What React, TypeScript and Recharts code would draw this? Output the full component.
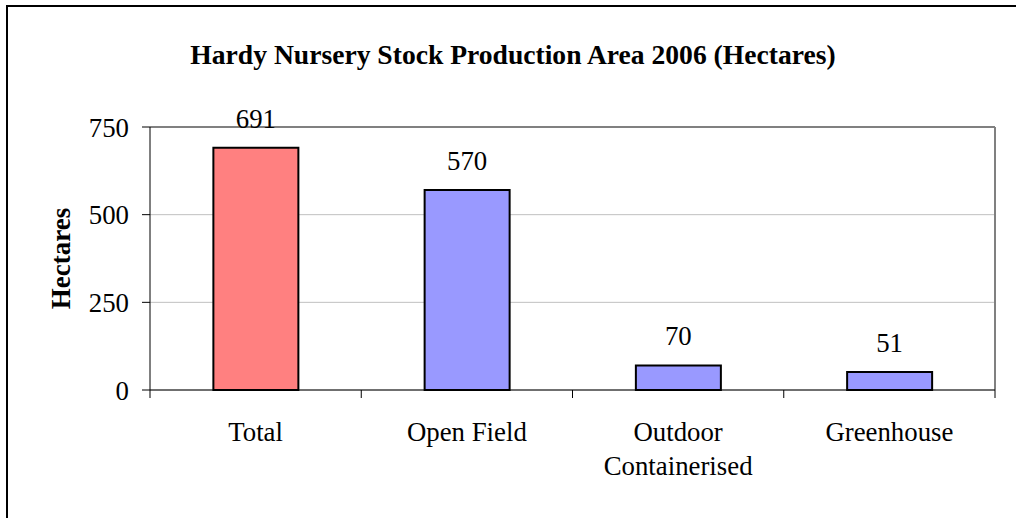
import { BarChart, Bar, XAxis, YAxis, CartesianGrid, LabelList, Cell } from 'recharts'

const categories = ['Total', 'Open Field', 'Outdoor Containerised', 'Greenhouse']
const hectares = [691, 570, 70, 51]
const yTicks = [0, 250, 500, 750]
const barColors = ['#ff8080', '#9999ff', '#9999ff', '#9999ff']

const data = categories.map((name, i) => ({ name, value: hectares[i] }))

const FONT = '"Times New Roman", "Liberation Serif", serif'

function CategoryTick(props: any) {
  const { x, y, payload, index, width, visibleTicksCount } = props
  const band = width && visibleTicksCount ? width / visibleTicksCount : 0
  const words: string[] = String(payload.value).split(' ')
  const lines = String(payload.value).length > 12 ? words : [payload.value]
  return (
    <g>
      {band > 0 && <line x1={x - band / 2} x2={x - band / 2} y1={y} y2={y + 8} stroke="#000" />}
      {band > 0 && index === visibleTicksCount - 1 && (
        <line x1={x + band / 2} x2={x + band / 2} y1={y} y2={y + 8} stroke="#000" />
      )}
      <text x={x} y={y} textAnchor="middle" fontSize={26.8} fontFamily={FONT} fill="#000">
        {lines.map((l, i) => (
          <tspan key={i} x={x} dy={i === 0 ? 51 : 34}>
            {l}
          </tspan>
        ))}
      </text>
    </g>
  )
}

function YLabel(props: any) {
  const { viewBox } = props
  const cx = 61
  const cy = viewBox.y + viewBox.height / 2
  return (
    <text
      x={cx}
      y={cy}
      transform={`rotate(-90 ${cx} ${cy})`}
      textAnchor="middle"
      dominantBaseline="central"
      fontSize={27}
      fontWeight="bold"
      fontFamily={FONT}
      fill="#000"
    >
      Hectares
    </text>
  )
}

export default function App() {
  return (
    <div style={{ position: 'fixed', left: 0, top: 0, width: 1016, height: 518, overflow: 'hidden', background: '#fff' }}>
      <div
        style={{
          position: 'absolute',
          left: 5,
          top: 39,
          width: 1016,
          textAlign: 'center',
          fontFamily: FONT,
          fontWeight: 'bold',
          fontSize: 27.6,
          lineHeight: '32px',
        }}
      >
        Hardy Nursery Stock Production Area 2006 (Hectares)
      </div>
      <div style={{ position: 'absolute', left: 0, top: 0 }}>
        <BarChart
          width={1016}
          height={518}
          data={data}
          margin={{ top: 127, right: 21, left: 10, bottom: 48 }}
          barCategoryGap="30%"
        >
          <CartesianGrid vertical={false} stroke="#c0c0c0" />
          {/* plot frame: top and right edges in darker grey */}
          <CartesianGrid
            stroke="#808080"
            strokeWidth={2}
            horizontalCoordinatesGenerator={({ offset }: any) => [offset.top]}
            verticalCoordinatesGenerator={({ offset }: any) => [offset.left + offset.width]}
          />
          <XAxis
            dataKey="name"
            interval={0}
            height={80}
            tickSize={0}
            tickMargin={0}
            tickLine={false}
            axisLine={{ stroke: '#000' }}
            tick={<CategoryTick />}
          />
          <YAxis
            domain={[0, 750]}
            ticks={yTicks}
            width={140}
            tickSize={8}
            tickMargin={13}
            axisLine={{ stroke: '#000' }}
            tickLine={{ stroke: '#000' }}
            tick={{ fontSize: 26.8, fontFamily: FONT, fill: '#000' }}
            label={<YLabel />}
          />
          <Bar dataKey="value" stroke="#000" strokeWidth={2} isAnimationActive={false}>
            {data.map((_d, i) => (
              <Cell key={i} fill={barColors[i]} />
            ))}
            <LabelList
              dataKey="value"
              position="top"
              offset={20}
              fontSize={26.8}
              fontFamily={FONT}
              fill="#000"
            />
          </Bar>
        </BarChart>
      </div>
      <div style={{ position: 'absolute', left: 6, top: 5, width: 2, height: 513, background: '#000' }} />
      <div style={{ position: 'absolute', left: 6, top: 5, width: 1010, height: 2, background: '#000' }} />
    </div>
  )
}
